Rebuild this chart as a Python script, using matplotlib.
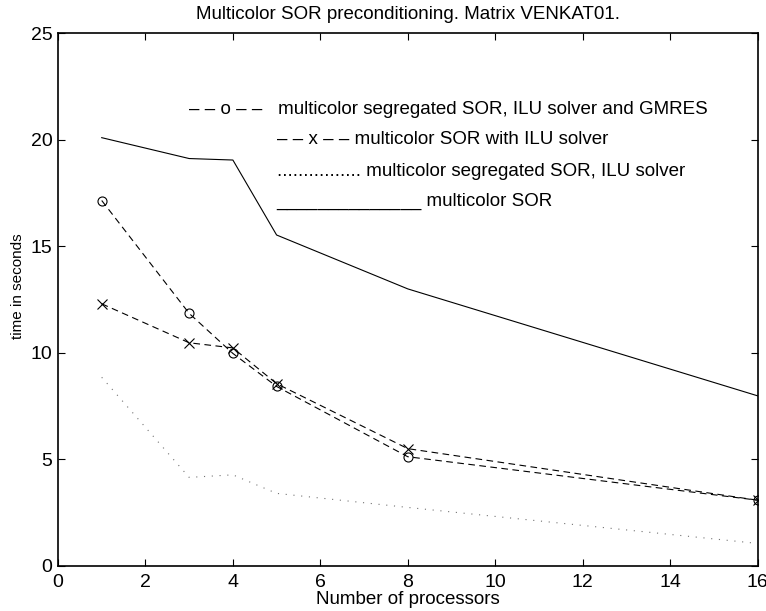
import matplotlib
matplotlib.use('Agg')
import matplotlib.pyplot as plt

plt.rcParams['font.family'] = ['Liberation Sans', 'DejaVu Sans']

# 프로세서 수
procs = [1, 3, 4, 5, 8, 16]
# 각 방법별 시간(초)
t_seg_gmres = [17.15, 11.85, 9.97, 8.42, 5.12, 3.08]
t_sor_ilu = [12.3, 10.47, 10.23, 8.55, 5.5, 3.08]
t_seg_ilu = [8.85, 4.15, 4.27, 3.4, 2.74, 1.05]
t_sor = [20.1, 19.12, 19.05, 15.53, 13.0, 7.98]

legend_texts = ['\u2013 \u2013 o \u2013 \u2013   multicolor segregated SOR, ILU solver and GMRES',
                '\u2013 \u2013 x \u2013 \u2013 multicolor SOR with ILU solver',
                '................ multicolor segregated SOR, ILU solver',
                '______________ multicolor SOR']
legend_x = [3, 5, 5, 5]
legend_y = [21.4, 20, 18.5, 17.1]

fig = plt.figure(figsize=(7.66, 6.11), dpi=100)
ax = fig.add_axes([0.0757, 0.074, 0.9133, 0.8715])

dash = (0, (6, 4))
ax.plot(procs, t_sor, color='black', linewidth=0.8)
ax.plot(procs, t_seg_gmres, color='black', linewidth=0.8, linestyle=dash,
        marker='o', markersize=6.5, markerfacecolor='none', markeredgewidth=0.8)
ax.plot(procs, t_sor_ilu, color='black', linewidth=0.8, linestyle=dash,
        marker='x', markersize=7, markeredgewidth=0.8)
ax.plot(procs, t_seg_ilu, color='0.45', linewidth=0.8, linestyle=(0, (1, 6)))

# 범례 대신 텍스트로 표시
for tx, x_, y_ in zip(legend_texts, legend_x, legend_y):
    ax.text(x_, y_, tx, ha='left', va='center', fontsize=13.5)

ax.set_xlim(0, 16)
ax.set_ylim(0, 25)
ax.set_xticks(range(0, 17, 2))
ax.set_yticks(range(0, 26, 5))
ax.tick_params(direction='in', top=True, right=True, labelsize=14, length=5, width=0.8, pad=4)
ax.tick_params(axis='x', pad=6)
for sp in ax.spines.values():
    sp.set_linewidth(1.2)

ax.set_title('Multicolor SOR preconditioning. Matrix VENKAT01.', fontsize=13.5, pad=10)
ax.set_xlabel('Number of processors', fontsize=13.5, labelpad=0)
ax.set_ylabel('time in seconds', fontsize=11)
ax.yaxis.set_label_coords(-0.047, 0.525)

fig.savefig('out.png', dpi=100)
